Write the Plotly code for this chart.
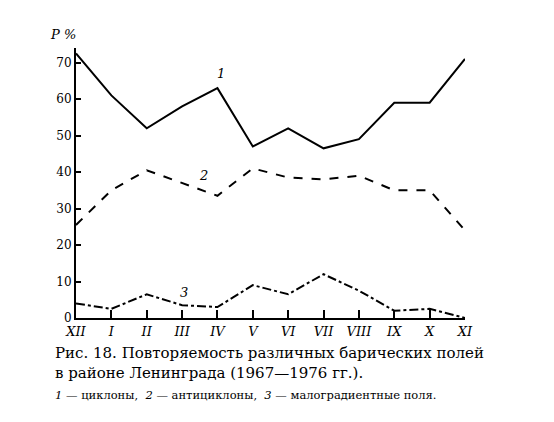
import plotly.graph_objects as go

months = ["XII","I","II","III","IV","V","VI","VII","VIII","IX","X","XI"]
cyclones = [72.5, 61, 52, 58, 63, 47, 52, 46.5, 49, 59, 59, 71]
anticyclones = [25.5, 35, 40.5, 37, 33.5, 41, 38.5, 38, 39, 35, 35, 24]
lowgrad = [4, 2.5, 6.5, 3.5, 3, 9, 6.5, 12, 7.5, 2, 2.5, 0]
yticks = [0,10,20,30,40,50,60,70]

x = list(range(len(months)))
fig = go.Figure()
fig.add_trace(go.Scatter(x=x, y=cyclones, mode="lines", line=dict(color="black", width=2)))
fig.add_trace(go.Scatter(x=x, y=anticyclones, mode="lines", line=dict(color="black", width=2, dash="dash")))
fig.add_trace(go.Scatter(x=x, y=lowgrad, mode="lines", line=dict(color="black", width=2, dash="dashdot")))

ff = "DejaVu Serif, Liberation Serif, serif"
fig.update_layout(
    width=554, height=422, showlegend=False,
    paper_bgcolor="white", plot_bgcolor="white",
    margin=dict(l=68, r=97, t=40, b=112),
    font=dict(family=ff, color="black", size=13),
    xaxis=dict(range=[0, 11], tickvals=x, ticktext=["<i>%s</i>" % m for m in months],
               showgrid=False, zeroline=False,
               showline=True, linecolor="black", linewidth=2, ticks="inside", ticklen=8,
               tickwidth=1.5, tickcolor="black", tickfont=dict(size=13, family=ff)),
    yaxis=dict(range=[0, 74], tickvals=yticks, showgrid=False, zeroline=False,
               showline=True, linecolor="black", linewidth=2, ticks="inside", ticklen=5,
               tickwidth=1.5, tickcolor="black", tickfont=dict(size=12, family=ff)),
)
ann = [
    dict(x=0, y=1.0, xref="paper", yref="paper", text="<i>P %</i>", showarrow=False,
         xanchor="right", yanchor="bottom", xshift=2, yshift=4, font=dict(size=13)),
    dict(x=4.1, y=64.5, text="<i>1</i>", showarrow=False, yanchor="bottom", font=dict(size=13)),
    dict(x=3.6, y=36.5, text="<i>2</i>", showarrow=False, yanchor="bottom", font=dict(size=13)),
    dict(x=3.05, y=4.5, text="<i>3</i>", showarrow=False, yanchor="bottom", font=dict(size=13)),
    dict(x=-0.06, y=-0.09, xref="paper", yref="paper", xanchor="left", align="left", showarrow=False,
         text="Рис. 18. Повторяемость различных барических полей<br>в районе Ленинграда (1967—1976 гг.).",
         yanchor="top", font=dict(size=15)),
    dict(x=-0.06, y=-0.25, xref="paper", yref="paper", xanchor="left", align="left", showarrow=False,
         text="<i>1</i> — циклоны,  <i>2</i> — антициклоны,  <i>3</i> — малоградиентные поля.",
         yanchor="top", font=dict(size=11.5)),
]
fig.update_layout(annotations=ann)
fig.write_html("out.html")
